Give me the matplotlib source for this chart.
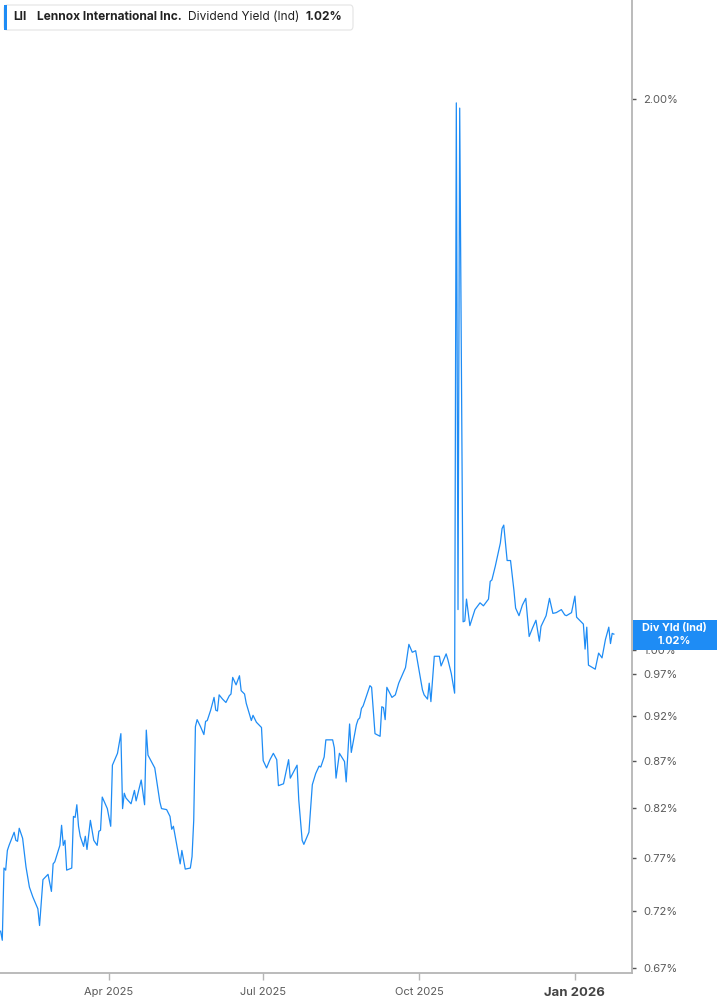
import matplotlib
matplotlib.use('Agg')
import numpy as np
import pandas as pd
import matplotlib.pyplot as plt
import matplotlib.ticker as ticker
from matplotlib.patches import FancyBboxPatch, Rectangle

# day numbers counted from 1 Jan 2025 (day 1), values in percent
day_num = [
    27, 28, 29, 30, 31, 32, 35, 36, 37, 38, 40, 42, 44, 46, 49, 50, 52, 55, 57, 58,
    59, 62, 63, 64, 65, 66, 69, 70, 71, 72, 73, 74, 76, 77, 78, 80, 82, 84, 85, 86,
    87, 90, 92, 93, 96, 98, 99, 100, 101, 104, 106, 107, 110, 112, 113, 114, 118, 121, 122, 125,
    127, 128, 129, 133, 134, 136, 139, 140, 141, 142, 143, 145, 147, 148, 149, 151, 153, 154, 155, 156,
    158, 160, 162, 163, 164, 166, 168, 169, 171, 172, 175, 176, 178, 181, 182, 184, 186, 188, 190, 191,
    194, 197, 198, 202, 203, 205, 206, 207, 209, 211, 213, 215, 216, 218, 219, 223, 224, 225, 227, 230,
    231, 233, 234, 237, 238, 239, 240, 241, 245, 246, 248, 251, 252, 253, 254, 255, 258, 260, 262, 266,
    268, 270, 272, 276, 277, 279, 280, 281, 283, 286, 287, 290, 291, 293, 295, 296, 297, 298, 300, 301,
    302, 304, 307, 310, 312, 315, 316, 317, 319, 322, 323, 324, 326, 328, 330, 331, 333, 335, 337, 338,
    339, 341, 343, 345, 346, 349, 351, 353, 355, 358, 360, 361, 364, 366, 367, 371, 372, 373, 374, 378,
    380, 382, 384, 386, 387, 388, 389,
]
div_yield = [
    0.702, 0.694, 0.760, 0.758, 0.777, 0.782, 0.795, 0.787, 0.786, 0.799, 0.789, 0.761, 0.742, 0.733, 0.722, 0.707, 0.749, 0.754, 0.738, 0.764,
    0.766, 0.782, 0.802, 0.782, 0.787, 0.758, 0.760, 0.811, 0.810, 0.823, 0.801, 0.791, 0.781, 0.791, 0.778, 0.807, 0.787, 0.782, 0.796, 0.797,
    0.831, 0.819, 0.801, 0.865, 0.878, 0.900, 0.819, 0.835, 0.830, 0.824, 0.838, 0.827, 0.849, 0.823, 0.904, 0.876, 0.862, 0.826, 0.819, 0.818,
    0.811, 0.798, 0.801, 0.764, 0.777, 0.759, 0.760, 0.771, 0.807, 0.908, 0.916, 0.908, 0.899, 0.914, 0.915, 0.927, 0.942, 0.927, 0.926, 0.945,
    0.940, 0.936, 0.944, 0.946, 0.966, 0.957, 0.968, 0.950, 0.946, 0.935, 0.915, 0.921, 0.913, 0.907, 0.870, 0.862, 0.871, 0.878, 0.871, 0.843,
    0.845, 0.871, 0.851, 0.865, 0.828, 0.787, 0.783, 0.787, 0.795, 0.844, 0.856, 0.864, 0.863, 0.874, 0.893, 0.893, 0.884, 0.851, 0.878, 0.869,
    0.847, 0.911, 0.879, 0.910, 0.916, 0.918, 0.929, 0.932, 0.956, 0.954, 0.900, 0.897, 0.931, 0.930, 0.916, 0.954, 0.942, 0.945, 0.959, 0.978,
    1.007, 0.997, 0.999, 0.951, 0.945, 0.940, 0.959, 0.937, 0.992, 0.992, 0.980, 0.995, 0.988, 0.971, 0.947, 1.990, 1.052, 1.977, 1.036, 1.037,
    1.066, 1.031, 1.052, 1.061, 1.057, 1.066, 1.090, 1.092, 1.111, 1.144, 1.165, 1.170, 1.119, 1.119, 1.078, 1.054, 1.044, 1.058, 1.067, 1.041,
    1.017, 1.028, 1.038, 1.011, 1.030, 1.044, 1.067, 1.047, 1.048, 1.052, 1.045, 1.044, 1.048, 1.070, 1.042, 1.033, 1.001, 1.029, 0.981, 0.976,
    0.996, 0.990, 1.013, 1.029, 1.008, 1.021, 1.020,
]
y_ticks = [0.67, 0.72, 0.77, 0.82, 0.87, 0.92, 0.97, 1.00, 2.00]
x_ticks = ['2025-04-01', '2025-07-01', '2025-10-01', '2026-01-01']
x_tick_labels = ['Apr 2025', 'Jul 2025', 'Oct 2025', 'Jan 2026']

ticker_sym = 'LII'
company = 'Lennox International Inc.'
metric = 'Dividend Yield (Ind)'
short_metric = 'Div Yld (Ind)'

base = pd.Timestamp('2025-01-01')
dates = base + pd.to_timedelta(np.array(day_num) - 1, unit='D')
last_val = div_yield[-1]

blue = '#1e8cf5'
grey_txt = '#5a5a5a'

plt.rcParams['font.family'] = ['Inter', 'DejaVu Sans']

fig = plt.figure(figsize=(7.17, 10.05), dpi=100)
ax = fig.add_axes([0.0, 32 / 1005, 632 / 717, 973 / 1005])

ax.plot(dates, div_yield, color=blue, linewidth=0.9)

ax.set_yscale('log')
ax.set_ylim(0.666, 2.265)
ax.set_xlim(base + pd.Timedelta(days=25.65), base + pd.Timedelta(days=398.7))

ax.yaxis.tick_right()
ax.yaxis.set_major_locator(ticker.FixedLocator(y_ticks))
ax.yaxis.set_minor_locator(ticker.NullLocator())
ax.yaxis.set_major_formatter(ticker.FuncFormatter(lambda v, p: f'{v:.2f}%'))
ax.tick_params(axis='y', length=3, width=1, color='#555555', pad=5,
               labelsize=8, labelcolor=grey_txt)

ax.set_xticks(pd.to_datetime(x_ticks))
ax.set_xticklabels(x_tick_labels)
ax.tick_params(axis='x', length=5, width=1, color='#b5b5b5', pad=5,
               labelsize=8, labelcolor=grey_txt)
jan = ax.get_xticklabels()[-1]
jan.set_fontweight('bold')
jan.set_fontsize(9.5)
jan.set_color('#444444')

for s in ['top', 'left']:
    ax.spines[s].set_visible(False)
for s in ['right', 'bottom']:
    ax.spines[s].set_color('#b5b5b5')
    ax.spines[s].set_linewidth(1.3)

# header box
W, H = 717, 1005
hdr = FancyBboxPatch((4 / W, 1 - 30 / H), 349 / W, 25 / H, transform=fig.transFigure,
                     boxstyle='round,pad=0,rounding_size=0.004', fc='white',
                     ec='#e4e4e4', lw=0.8, zorder=5)
fig.patches.append(hdr)
fig.patches.append(Rectangle((4 / W, 1 - 30 / H), 3 / W, 25 / H, transform=fig.transFigure,
                             fc=blue, ec='none', zorder=6))
hy = 1 - 17.5 / H
fig.text(13 / W, hy, ticker_sym, fontsize=8.6, fontweight='bold', color='#222222', va='center', zorder=7)
fig.text(37 / W, hy, company, fontsize=8.6, fontweight='bold', color='#222222', va='center', zorder=7)
fig.text(188 / W, hy, metric, fontsize=8.6, color='#222222', va='center', zorder=7)
fig.text(305 / W, hy, f'{last_val:.2f}%', fontsize=8.6, fontweight='bold', color='#222222', va='center', zorder=7)

# last value tag on the right axis
fig.canvas.draw()
y_disp = ax.transData.transform((ax.get_xlim()[0], last_val))[1]
y_fig = fig.transFigure.inverted().transform((0, y_disp))[1]
box_h = 30 / H
fig.patches.append(Rectangle((633 / W, y_fig - box_h / 2 - 1 / H), 84 / W, box_h, transform=fig.transFigure,
                             fc=blue, ec='none', zorder=10))
fig.text(674 / W, y_fig + 6 / H, short_metric, fontsize=7.8, fontweight='bold', color='white',
         ha='center', va='center', zorder=11)
fig.text(674 / W, y_fig - 6.5 / H, f'{last_val:.2f}%', fontsize=7.8, fontweight='bold', color='white',
         ha='center', va='center', zorder=11)

plt.savefig('out.png', dpi=100)
